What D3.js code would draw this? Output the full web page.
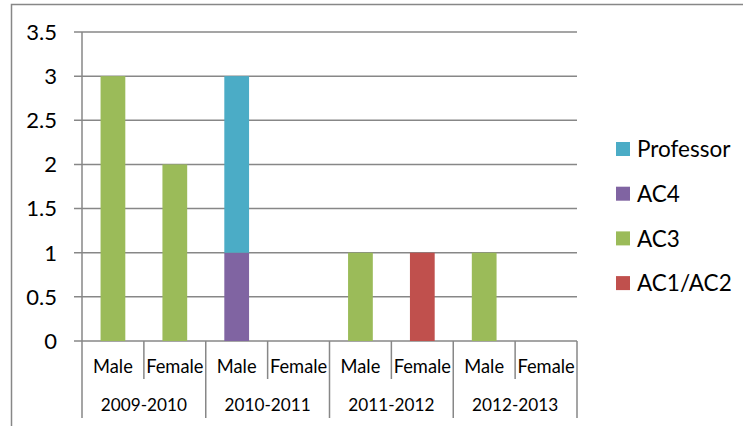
<!DOCTYPE html>
<html>
<head>
<meta charset="utf-8">
<script src="https://cdn.jsdelivr.net/npm/d3@7"></script>
<style>
  body { margin: 0; background: #fff; }
  svg { display: block; font-family: Lato, "Liberation Sans", sans-serif; }
</style>
</head>
<body>
<div id="chart"></div>
<script>
// data
var years = ["2009-2010", "2010-2011", "2011-2012", "2012-2013"];
var genders = ["Male", "Female"];
var series = ["AC1/AC2", "AC3", "AC4", "Professor"]; // stacking order, bottom up
var ac12 = [0, 0, 0, 0, 0, 1, 0, 0];
var ac3 = [3, 2, 0, 0, 1, 0, 1, 0];
var ac4 = [0, 0, 1, 0, 0, 0, 0, 0];
var professor = [0, 0, 2, 0, 0, 0, 0, 0];
var yTicks = [0, 0.5, 1, 1.5, 2, 2.5, 3, 3.5];
var colors = {"AC1/AC2": "#c0504d", "AC3": "#9bbb59", "AC4": "#8064a2", "Professor": "#4bacc6"};

var width = 743, height = 426;
var plotLeft = 82, plotRight = 577, plotTop = 32, zero = 341;

// build rows for d3.stack
var cats = [];
years.forEach(function(y) { genders.forEach(function(g) { cats.push(y + "|" + g); }); });
var rows = cats.map(function(c, i) {
	return {cat: c, "AC1/AC2": ac12[i], "AC3": ac3[i], "AC4": ac4[i], "Professor": professor[i]};
});
var stacked = d3.stack().keys(series)(rows);

var svg = d3.select("#chart").append("svg")
	.attr("width", width)
	.attr("height", height);

// chart frame (only top and left edges are visible)
svg.append("path")
	.attr("d", "M11.5,426V4.5H743")
	.attr("fill", "none")
	.attr("stroke", "#878787")
	.attr("stroke-width", 1.5);

var x = d3.scaleBand().domain(cats).range([plotLeft, plotRight]).paddingInner(0.6).paddingOuter(0.3);
var y = d3.scaleLinear().domain([0, 3.5]).range([zero, plotTop]);

// gridlines + y tick labels
svg.append("g").selectAll("line").data(yTicks).join("line")
	.attr("x1", plotLeft - 8).attr("x2", plotRight)
	.attr("y1", function(d) { return y(d); }).attr("y2", function(d) { return y(d); })
	.attr("stroke", "#878787").attr("stroke-width", 1.5);

svg.append("g").selectAll("text").data(yTicks).join("text")
	.attr("x", 57)
	.attr("y", function(d) { return y(d); })
	.attr("dy", ".36em")
	.attr("text-anchor", "end")
	.style("font-size", "22px")
	.style("fill", "#000")
	.text(function(d) { return d; });

// bars
svg.append("g").selectAll("g").data(stacked).join("g")
	.attr("fill", function(d) { return colors[d.key]; })
	.selectAll("rect").data(function(d) { return d; }).join("rect")
	.attr("x", function(d) { return x(d.data.cat); })
	.attr("width", x.bandwidth())
	.attr("y", function(d) { return y(d[1]); })
	.attr("height", function(d) { return y(d[0]) - y(d[1]); });

// category separators (multi-level axis)
var step = x.step();
var seps = d3.range(cats.length + 1);
svg.append("g").selectAll("line").data(seps).join("line")
	.attr("x1", function(i) { return plotLeft + i * step; })
	.attr("x2", function(i) { return plotLeft + i * step; })
	.attr("y1", function(i) { return i === 0 ? plotTop : zero; })
	.attr("y2", function(i) { return i % 2 === 0 ? 418 : 379; })
	.attr("stroke", "#878787").attr("stroke-width", 1.5);

// gender labels
svg.append("g").selectAll("text").data(cats).join("text")
	.attr("x", function(c) { return x(c) + x.bandwidth() / 2; })
	.attr("y", 367)
	.attr("dy", ".35em")
	.attr("text-anchor", "middle")
	.style("font-size", "18.3px")
	.text(function(c) { return c.split("|")[1]; });

// year labels
svg.append("g").selectAll("text").data(years).join("text")
	.attr("x", function(d, i) { return plotLeft + (i * 2 + 1) * step; })
	.attr("y", 405)
	.attr("dy", ".35em")
	.attr("text-anchor", "middle")
	.style("font-size", "17.2px")
	.text(function(d) { return d; });

// legend, reversed like Excel
var legend = svg.append("g").selectAll("g").data(series.slice().reverse()).join("g")
	.attr("transform", function(d, i) { return "translate(616," + (149 + i * 44.7) + ")"; });

legend.append("rect")
	.attr("x", 0).attr("y", -7)
	.attr("width", 14).attr("height", 14)
	.attr("fill", function(d) { return colors[d]; });

legend.append("text")
	.attr("x", 21)
	.attr("y", 0)
	.attr("dy", ".36em")
	.style("font-size", "22.5px")
	.text(function(d) { return d; });
</script>
</body>
</html>
